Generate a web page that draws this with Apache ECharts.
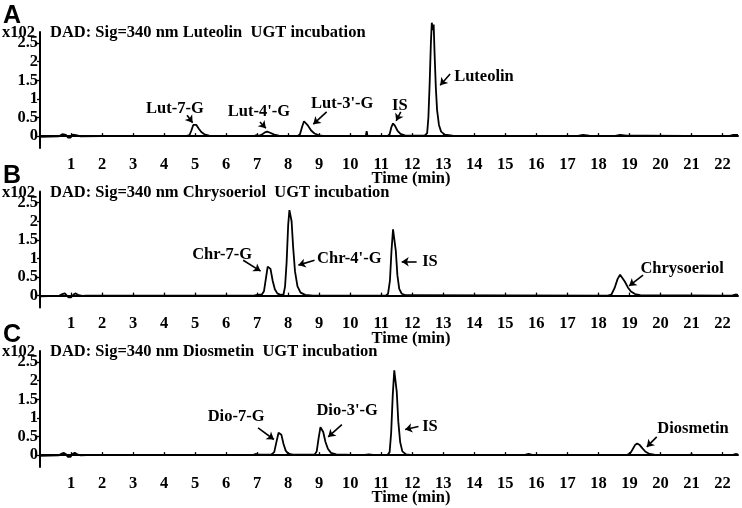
<!DOCTYPE html>
<html>
<head>
<meta charset="utf-8">
<style>
  html, body { margin: 0; padding: 0; background: #fff; }
  #chart { width: 742px; height: 508px; }
</style>
<script src="https://cdn.jsdelivr.net/npm/echarts@6/dist/echarts.min.js"></script>
</head>
<body>
<div id="chart"></div>
<script>
const panelLetters = ['A', 'B', 'C']
const panelTitles = [
  'DAD: Sig=340 nm Luteolin  UGT incubation',
  'DAD: Sig=340 nm Chrysoeriol  UGT incubation',
  'DAD: Sig=340 nm Diosmetin  UGT incubation'
]
const timeTicks = [1, 2, 3, 4, 5, 6, 7, 8, 9, 10, 11, 12, 13, 14, 15, 16, 17, 18, 19, 20, 21, 22]
const signalTicks = [0, 0.5, 1, 1.5, 2, 2.5]

// [time (min), signal (x102)]
const luteolinTrace = [
  [0, -0.02], [0.6, -0.01], [0.72, 0.05], [0.78, 0.09], [0.84, 0.03], [0.9, -0.04], [0.98, -0.04],
  [1.06, 0.04], [1.12, 0.08], [1.2, 0.02], [1.3, -0.01], [2, 0], [4.7, 0], [4.82, 0.03], [4.88, 0.15],
  [4.94, 0.3], [4.98, 0.34], [5.04, 0.3], [5.12, 0.2], [5.2, 0.11], [5.3, 0.05], [5.45, 0.01], [5.6, 0],
  [6.9, 0], [6.98, 0.03], [7.05, 0.01], [7.15, 0.04], [7.25, 0.1], [7.32, 0.12], [7.42, 0.09],
  [7.55, 0.04], [7.7, 0.01], [8.3, 0], [8.38, 0.05], [8.45, 0.25], [8.51, 0.4], [8.56, 0.39],
  [8.64, 0.28], [8.74, 0.15], [8.85, 0.07], [9.0, 0.02], [9.2, 0], [10.5, 0], [10.53, 0.13], [10.56, 0],
  [11.2, 0], [11.27, 0.05], [11.33, 0.25], [11.38, 0.34], [11.44, 0.28], [11.52, 0.15], [11.62, 0.06],
  [11.8, 0.01], [12.4, 0.01], [12.48, 0.08], [12.52, 0.5], [12.56, 1.4], [12.6, 2.5], [12.63, 3.05],
  [12.66, 2.85], [12.69, 3.0], [12.72, 2.2], [12.76, 1.3], [12.8, 0.7], [12.86, 0.3], [12.93, 0.12],
  [13.05, 0.04], [13.3, 0.01], [17.3, 0], [17.5, 0.03], [17.7, 0.01], [18.5, 0], [18.7, 0.03],
  [18.9, 0.01], [19.5, 0.01], [22.2, 0], [22.35, 0.03], [22.5, 0.03]
]
const chrysoeriolTrace = [
  [0, -0.02], [0.6, -0.01], [0.72, 0.04], [0.8, 0.06], [0.86, 0.02], [0.92, -0.05], [1.0, -0.05],
  [1.08, 0.03], [1.15, 0.06], [1.22, 0.02], [1.35, -0.01], [1.5, 0], [6.9, 0], [7.0, 0.02], [7.15, 0.03],
  [7.22, 0.12], [7.28, 0.45], [7.34, 0.78], [7.38, 0.83], [7.43, 0.72], [7.5, 0.4], [7.57, 0.17],
  [7.65, 0.06], [7.75, 0.02], [7.85, 0.03], [7.9, 0.25], [7.95, 0.9], [8.0, 1.9], [8.04, 2.3],
  [8.07, 2.32], [8.11, 2.0], [8.16, 1.3], [8.22, 0.65], [8.3, 0.25], [8.4, 0.08], [8.55, 0.02],
  [8.8, 0], [11.15, 0], [11.22, 0.05], [11.28, 0.4], [11.33, 1.2], [11.38, 1.78], [11.42, 1.75],
  [11.47, 1.2], [11.52, 0.55], [11.58, 0.18], [11.66, 0.05], [11.8, 0.01], [18.3, 0], [18.42, 0.03],
  [18.52, 0.2], [18.62, 0.45], [18.7, 0.56], [18.76, 0.53], [18.85, 0.38], [18.95, 0.22], [19.05, 0.11],
  [19.18, 0.04], [19.35, 0.01], [22.3, 0], [22.42, 0.03], [22.5, 0.02]
]
const diosmetinTrace = [
  [0, -0.02], [0.6, -0.01], [0.7, 0.04], [0.77, 0.06], [0.84, 0.02], [0.9, -0.05], [0.98, -0.05],
  [1.05, 0.03], [1.12, 0.06], [1.2, 0.02], [1.32, -0.01], [1.5, 0], [6.85, 0], [6.95, 0.03], [7.05, 0.01],
  [7.45, 0.01], [7.55, 0.08], [7.62, 0.35], [7.69, 0.6], [7.73, 0.64], [7.78, 0.55], [7.85, 0.3],
  [7.92, 0.12], [8.0, 0.04], [8.15, 0.01], [8.85, 0.01], [8.92, 0.1], [8.98, 0.45], [9.04, 0.75],
  [9.08, 0.77], [9.13, 0.62], [9.2, 0.36], [9.28, 0.17], [9.38, 0.06], [9.55, 0.02], [10.4, 0],
  [10.6, 0.02], [10.8, 0], [11.2, 0], [11.27, 0.08], [11.32, 0.6], [11.37, 1.6], [11.42, 2.28],
  [11.45, 2.3], [11.5, 1.7], [11.55, 0.9], [11.61, 0.35], [11.68, 0.1], [11.8, 0.02], [12, 0],
  [15.6, 0], [15.75, 0.03], [15.9, 0], [18.9, 0], [19.02, 0.04], [19.1, 0.15], [19.18, 0.27],
  [19.25, 0.31], [19.32, 0.28], [19.42, 0.18], [19.52, 0.09], [19.65, 0.03], [19.8, 0.01], [20.9, 0],
  [21.0, 0.02], [21.1, 0], [22.3, 0], [22.42, 0.03], [22.5, 0.02]
]

// peak labels: text centre, arrow tail, arrow head (data units)
const luteolinPeaks = [
  { name: 'Lut-7-G', text: [4.35, 0.74], tail: [4.74, 0.56], head: [4.92, 0.36] },
  { name: "Lut-4'-G", text: [7.06, 0.65], tail: [7.09, 0.38], head: [7.28, 0.21] },
  { name: "Lut-3'-G", text: [9.74, 0.88], tail: [9.24, 0.65], head: [8.81, 0.32] },
  { name: 'IS', text: [11.6, 0.81], tail: [11.63, 0.65], head: [11.48, 0.41] },
  { name: 'Luteolin', text: [14.31, 1.61], tail: [13.22, 1.67], head: [12.9, 1.37] }
]
const chrysoeriolPeaks = [
  { name: 'Chr-7-G', text: [5.87, 1.11], tail: [6.55, 0.95], head: [7.11, 0.66] },
  { name: "Chr-4'-G", text: [9.97, 0.98], tail: [8.85, 0.95], head: [8.33, 0.82] },
  { name: 'IS', text: [12.57, 0.91], tail: [12.14, 0.91], head: [11.66, 0.91] },
  { name: 'Chrysoeriol', text: [20.7, 0.71], tail: [19.44, 0.55], head: [18.99, 0.26] }
]
const diosmetinPeaks = [
  { name: 'Dio-7-G', text: [6.32, 1.03], tail: [7.03, 0.73], head: [7.54, 0.42] },
  { name: "Dio-3'-G", text: [9.9, 1.18], tail: [9.73, 0.82], head: [9.29, 0.49] },
  { name: 'IS', text: [12.57, 0.76], tail: [12.2, 0.77], head: [11.77, 0.69] },
  { name: 'Diosmetin', text: [21.05, 0.7], tail: [19.88, 0.49], head: [19.56, 0.22] }
]

const traces = [luteolinTrace, chrysoeriolTrace, diosmetinTrace]
const peakSets = [luteolinPeaks, chrysoeriolPeaks, diosmetinPeaks]

const SERIF = '"Liberation Serif", "Times New Roman", serif'
const FONT_SIZE = 16.5
const panelTop = [32, 191.5, 351]
const gridHeight = 116

const chart = echarts.init(document.getElementById('chart'))

const grids = panelTop.map((top) => ({ left: 40, right: 4, top, height: gridHeight }))

const xAxes = panelTop.map((_, i) => ({
  type: 'value',
  gridIndex: i,
  min: 0,
  max: 22.5,
  offset: 4,
  splitLine: { show: false },
  axisLine: { lineStyle: { color: '#000', width: 2 } },
  axisTick: { inside: true, length: 3, customValues: timeTicks, lineStyle: { color: '#000', width: 1.3 } },
  axisLabel: {
    customValues: timeTicks,
    margin: 4,
    color: '#000',
    fontFamily: SERIF,
    fontWeight: 'bold',
    fontSize: FONT_SIZE
  }
}))

const yAxes = panelTop.map((_, i) => ({
  type: 'value',
  gridIndex: i,
  min: -0.32,
  max: 2.8,
  splitLine: { show: false },
  axisLine: { show: true, lineStyle: { color: '#000', width: 2 } },
  axisTick: { show: true, length: 3, customValues: signalTicks, lineStyle: { color: '#000', width: 1.3 } },
  axisLabel: {
    customValues: signalTicks,
    margin: 2,
    color: '#000',
    fontFamily: SERIF,
    fontWeight: 'bold',
    fontSize: FONT_SIZE
  }
}))

const series = traces.map((trace, i) => ({
  type: 'line',
  xAxisIndex: i,
  yAxisIndex: i,
  data: trace,
  showSymbol: false,
  clip: false,
  silent: true,
  lineStyle: { color: '#000', width: 1.8 },
  markLine: {
    silent: true,
    symbol: ['none', 'arrow'],
    symbolSize: 7,
    label: { show: false },
    lineStyle: { color: '#000', width: 1.6, type: 'solid' },
    data: peakSets[i].map((p) => [{ coord: p.tail }, { coord: p.head }])
  },
  markPoint: {
    silent: true,
    symbol: 'circle',
    symbolSize: 1,
    itemStyle: { color: 'transparent' },
    label: {
      show: true,
      position: 'inside',
      formatter: '{b}',
      color: '#000',
      fontFamily: SERIF,
      fontWeight: 'bold',
      fontSize: FONT_SIZE
    },
    data: peakSets[i].map((p) => ({ name: p.name, coord: p.text }))
  }
}))

const graphics = []
panelTop.forEach((top, i) => {
  const dy = top - panelTop[0]
  const font = 'bold ' + FONT_SIZE + 'px ' + SERIF
  graphics.push(
    { type: 'text', x: 3, y: 4 + dy, style: { text: panelLetters[i], font: 'bold 25px "Liberation Sans", Arial, sans-serif', fill: '#000' } },
    { type: 'text', x: 35, y: 33 + dy, style: { text: 'x102', align: 'right', verticalAlign: 'middle', font, fill: '#000' } },
    { type: 'text', x: 50, y: 33 + dy, style: { text: panelTitles[i], align: 'left', verticalAlign: 'middle', font, fill: '#000' } },
    { type: 'text', x: 411, y: 179 + dy, style: { text: 'Time (min)', align: 'center', verticalAlign: 'middle', font, fill: '#000' } }
  )
})

chart.setOption({
  backgroundColor: '#fff',
  animation: false,
  grid: grids,
  xAxis: xAxes,
  yAxis: yAxes,
  series,
  graphic: graphics
})
</script>
</body>
</html>
